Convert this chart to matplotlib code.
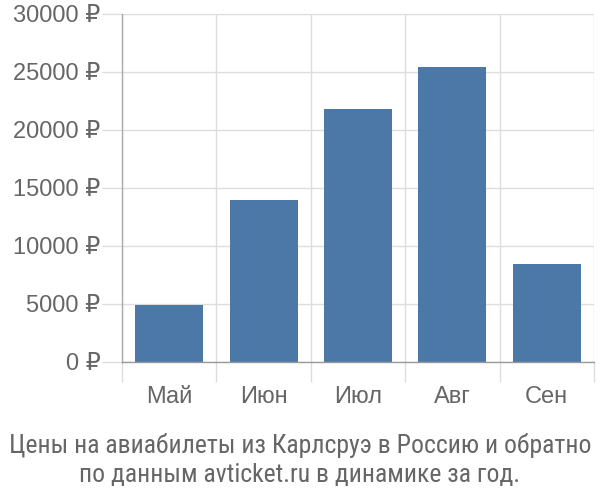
import matplotlib
matplotlib.use("Agg")
import matplotlib.pyplot as plt
import numpy as np

months = ["Май", "Июн", "Июл", "Авг", "Сен"]
prices = [4950, 14000, 21850, 25450, 8450]
y_ticks = [0, 5000, 10000, 15000, 20000, 25000, 30000]
title_lines = ["Цены на авиабилеты из Карлсруэ в Россию и обратно",
               "по данным avticket.ru в динамике за год."]

bar_color = "#4c78a8"
grid_color = "#dddddd"
text_color = "#666666"

plt.rcParams['font.family'] = ['Liberation Sans', 'DejaVu Sans']

fig = plt.figure(figsize=(6, 5), dpi=100)
ax = fig.add_axes([122/600, 1 - 362/500, (594 - 122)/600, (362 - 14)/500])

x = np.arange(len(months))
ax.bar(x, prices, width=0.72, color=bar_color, zorder=3)

ax.set_xlim(-0.5, len(months) - 0.5)
ax.set_ylim(0, 30000)

ax.set_yticks(y_ticks)
ax.set_yticklabels([f"{v} ₽" for v in y_ticks])
ax.set_xticks(x)
ax.set_xticklabels(months)
ax.set_xticks(np.arange(-0.5, len(months)), minor=True)

tick_len = 20 * 72 / 100
ax.tick_params(axis="y", length=tick_len, width=1.0, color=grid_color,
               pad=1, labelsize=17, labelcolor=text_color)
ax.tick_params(axis="x", which="major", length=0, pad=17,
               labelsize=17, labelcolor=text_color)
ax.tick_params(axis="x", which="minor", length=tick_len, width=1.0,
               color=grid_color)

# left boundary tick and zero tick a bit darker, like the axis lines
ax.xaxis.get_minor_ticks()[0].tick1line.set_color("#aaaaaa")
ax.yaxis.get_major_ticks()[0].tick1line.set_color("#999999")

ax.grid(axis="y", color=grid_color, linewidth=1.0, zorder=0)
ax.grid(axis="x", which="minor", color=grid_color, linewidth=1.0, zorder=0)
ax.grid(axis="x", which="major", visible=False)

for s in ["top", "right"]:
    ax.spines[s].set_visible(False)
ax.spines["left"].set_color("#aaaaaa")
ax.spines["left"].set_linewidth(1.0)
ax.spines["bottom"].set_color("#999999")
ax.spines["bottom"].set_linewidth(1.0)
ax.spines["bottom"].set_zorder(4)

title_font = ['Roboto Condensed', 'Liberation Sans']
fig.text(0.5, 1 - 446/500, title_lines[0], ha="center", va="center",
         fontsize=18.5, color=text_color, family=title_font)
fig.text(0.5, 1 - 475/500, title_lines[1], ha="center", va="center",
         fontsize=18.5, color=text_color, family=title_font)

fig.savefig("out.png", dpi=100)
